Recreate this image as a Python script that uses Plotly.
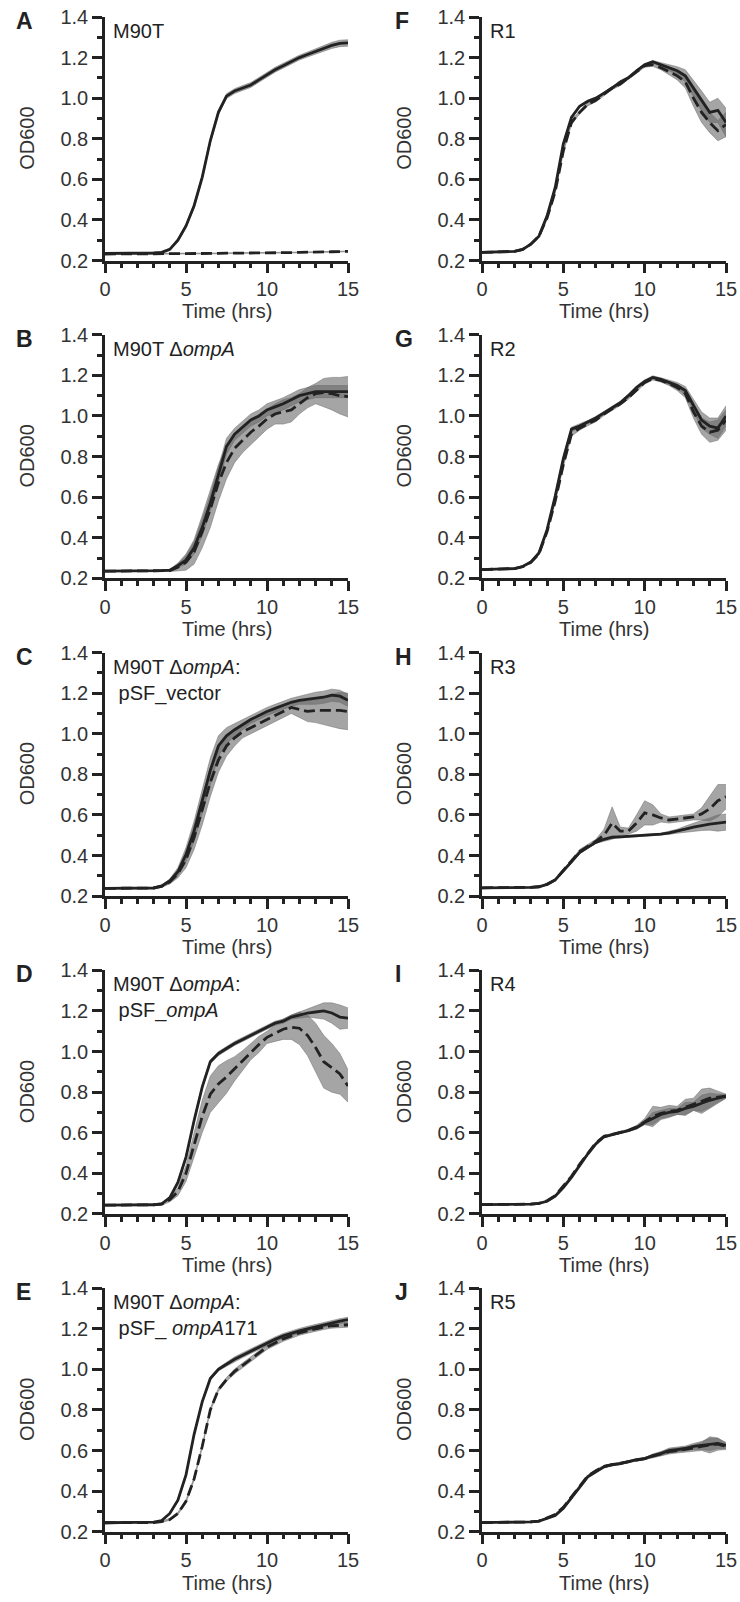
import plotly.graph_objects as go

T = [0, 0.5, 1, 1.5, 2, 2.5, 3, 3.5, 4, 4.5, 5, 5.5, 6, 6.5, 7, 7.5, 8, 8.5, 9, 9.5,
     10, 10.5, 11, 11.5, 12, 12.5, 13, 13.5, 14, 14.5, 15]

X_TICKS = [0, 5, 10, 15]
Y_TICKS = [0.2, 0.4, 0.6, 0.8, 1.0, 1.2, 1.4]

LETTERS = ["A", "B", "C", "D", "E", "F", "G", "H", "I", "J"]
TITLES = [
    "M90T",
    "M90T Δ<i>ompA</i>",
    "M90T Δ<i>ompA</i>:<br>\u00a0pSF_vector",
    "M90T Δ<i>ompA</i>:<br>\u00a0pSF_<i>ompA</i>",
    "M90T Δ<i>ompA</i>:<br>\u00a0pSF_ <i>ompA</i>171",
    "R1", "R2", "R3", "R4", "R5",
]

A_solid = [0.235, 0.235, 0.235, 0.235, 0.236, 0.236, 0.237, 0.24, 0.255, 0.3, 0.37, 0.47, 0.61, 0.79, 0.93, 1.01,
           1.035, 1.05, 1.065, 1.09, 1.115, 1.14, 1.16, 1.18, 1.2, 1.215, 1.23, 1.245, 1.26, 1.27, 1.272]
A_solid_err = [0.003, 0.003, 0.003, 0.003, 0.003, 0.003, 0.003, 0.004, 0.006, 0.008, 0.01, 0.012, 0.012, 0.012, 0.012, 0.012,
               0.012, 0.012, 0.012, 0.012, 0.012, 0.012, 0.012, 0.012, 0.012, 0.012, 0.013, 0.014, 0.015, 0.016, 0.016]
A_dash = [0.232, 0.232, 0.232, 0.232, 0.232, 0.233, 0.233, 0.233, 0.233, 0.234, 0.234, 0.234, 0.235, 0.235, 0.235, 0.236,
          0.236, 0.236, 0.237, 0.237, 0.238, 0.238, 0.239, 0.239, 0.24, 0.24, 0.241, 0.242, 0.243, 0.244, 0.245]
A_dash_err = [0.002, 0.002, 0.002, 0.002, 0.002, 0.002, 0.002, 0.002, 0.002, 0.002, 0.002, 0.002, 0.002, 0.002, 0.002, 0.002,
              0.002, 0.002, 0.002, 0.002, 0.002, 0.002, 0.002, 0.002, 0.002, 0.002, 0.002, 0.002, 0.002, 0.002, 0.002]

B_solid = [0.235, 0.235, 0.235, 0.235, 0.235, 0.236, 0.236, 0.238, 0.24, 0.262, 0.29, 0.35, 0.45, 0.57, 0.71, 0.85,
           0.91, 0.945, 0.98, 1.0, 1.03, 1.045, 1.06, 1.08, 1.1, 1.11, 1.12, 1.12, 1.12, 1.12, 1.12]
B_solid_err = [0, 0, 0, 0, 0, 0, 0, 0, 0.005, 0.01, 0.02, 0.03, 0.04, 0.04, 0.04, 0.04,
               0.03, 0.03, 0.03, 0.03, 0.03, 0.03, 0.03, 0.03, 0.03, 0.03, 0.03, 0.03, 0.03, 0.03, 0.03]
B_dash = [0.235, 0.235, 0.235, 0.235, 0.235, 0.236, 0.236, 0.237, 0.238, 0.255, 0.28, 0.33, 0.43, 0.54, 0.67, 0.77,
          0.84, 0.88, 0.92, 0.95, 0.985, 1.01, 1.02, 1.03, 1.06, 1.09, 1.11, 1.115, 1.11, 1.1, 1.095]
B_dash_err = [0, 0, 0, 0, 0, 0, 0, 0, 0.005, 0.02, 0.04, 0.06, 0.08, 0.09, 0.09, 0.08,
              0.07, 0.06, 0.06, 0.055, 0.05, 0.05, 0.06, 0.06, 0.05, 0.05, 0.05, 0.07, 0.08, 0.09, 0.1]

C_solid = [0.238, 0.238, 0.238, 0.238, 0.238, 0.239, 0.24, 0.25, 0.275, 0.32, 0.405, 0.52, 0.67, 0.82, 0.94, 0.99,
           1.02, 1.045, 1.07, 1.09, 1.11, 1.125, 1.14, 1.155, 1.165, 1.17, 1.175, 1.18, 1.19, 1.185, 1.165]
C_solid_err = [0, 0, 0, 0, 0, 0, 0, 0.005, 0.01, 0.02, 0.035, 0.05, 0.06, 0.06, 0.05, 0.04,
               0.03, 0.025, 0.02, 0.02, 0.02, 0.02, 0.02, 0.02, 0.02, 0.025, 0.03, 0.03, 0.03, 0.03, 0.03]
C_dash = [0.238, 0.238, 0.238, 0.238, 0.238, 0.239, 0.24, 0.248, 0.27, 0.31, 0.38, 0.49, 0.62, 0.76, 0.87, 0.94,
          0.98, 1.01, 1.03, 1.05, 1.07, 1.09, 1.11, 1.13, 1.12, 1.11, 1.115, 1.115, 1.115, 1.115, 1.11]
C_dash_err = [0, 0, 0, 0, 0, 0, 0, 0.005, 0.01, 0.02, 0.04, 0.06, 0.07, 0.07, 0.06, 0.05,
              0.04, 0.03, 0.03, 0.03, 0.03, 0.03, 0.03, 0.03, 0.04, 0.05, 0.06, 0.07, 0.08, 0.09, 0.09]

D_solid = [0.243, 0.243, 0.243, 0.243, 0.243, 0.244, 0.245, 0.25, 0.28, 0.355, 0.48, 0.66, 0.825, 0.95, 0.99, 1.015,
           1.04, 1.06, 1.08, 1.1, 1.12, 1.14, 1.15, 1.17, 1.18, 1.19, 1.195, 1.2, 1.19, 1.17, 1.165]
D_solid_err = [0, 0, 0, 0, 0, 0, 0, 0.003, 0.005, 0.008, 0.01, 0.01, 0.01, 0.01, 0.01, 0.01,
               0.01, 0.01, 0.01, 0.01, 0.01, 0.01, 0.01, 0.01, 0.015, 0.02, 0.03, 0.04, 0.05, 0.06, 0.05]
D_dash = [0.243, 0.243, 0.243, 0.243, 0.243, 0.244, 0.245, 0.248, 0.27, 0.31, 0.4, 0.54, 0.68, 0.79, 0.84, 0.875,
          0.915, 0.955, 1.0, 1.035, 1.07, 1.09, 1.11, 1.12, 1.115, 1.08, 1.02, 0.95, 0.92, 0.89, 0.83]
D_dash_err = [0, 0, 0, 0, 0, 0, 0, 0.005, 0.01, 0.02, 0.04, 0.06, 0.08, 0.09, 0.09, 0.08,
              0.06, 0.05, 0.04, 0.04, 0.03, 0.04, 0.05, 0.06, 0.08, 0.1, 0.12, 0.13, 0.12, 0.1, 0.08]

E_solid = [0.244, 0.244, 0.244, 0.244, 0.244, 0.245, 0.247, 0.255, 0.29, 0.355, 0.48, 0.68, 0.84, 0.955, 1.0, 1.025,
           1.05, 1.07, 1.09, 1.11, 1.13, 1.148, 1.165, 1.178, 1.19, 1.2, 1.21, 1.22, 1.23, 1.238, 1.245]
E_solid_err = [0, 0, 0, 0, 0, 0, 0, 0.003, 0.005, 0.006, 0.008, 0.008, 0.008, 0.008, 0.008, 0.01,
               0.012, 0.012, 0.012, 0.012, 0.012, 0.012, 0.012, 0.012, 0.012, 0.012, 0.012, 0.012, 0.012, 0.012, 0.012]
E_dash = [0.244, 0.244, 0.244, 0.244, 0.244, 0.244, 0.245, 0.25, 0.26, 0.29, 0.35, 0.46, 0.62, 0.8, 0.9, 0.95,
          0.99, 1.02, 1.05, 1.08, 1.11, 1.13, 1.15, 1.165, 1.18, 1.19, 1.2, 1.208, 1.215, 1.218, 1.22]
E_dash_err = [0, 0, 0, 0, 0, 0, 0, 0.003, 0.005, 0.006, 0.008, 0.008, 0.008, 0.008, 0.008, 0.01,
              0.012, 0.012, 0.012, 0.012, 0.012, 0.012, 0.012, 0.012, 0.012, 0.012, 0.012, 0.012, 0.012, 0.012, 0.012]

F_solid = [0.24, 0.241, 0.242, 0.243, 0.245, 0.255, 0.28, 0.32, 0.42, 0.56, 0.775, 0.905, 0.96, 0.985, 1.0, 1.025,
           1.05, 1.08, 1.1, 1.135, 1.165, 1.18, 1.165, 1.15, 1.135, 1.11, 1.05, 0.985, 0.93, 0.94, 0.88]
F_solid_err = [0, 0, 0, 0, 0, 0, 0.003, 0.005, 0.005, 0.005, 0.005, 0.005, 0.005, 0.005, 0.005, 0.005,
               0.005, 0.005, 0.005, 0.005, 0.005, 0.005, 0.01, 0.015, 0.02, 0.03, 0.04, 0.05, 0.05, 0.06, 0.07]
F_dash = [0.24, 0.241, 0.242, 0.243, 0.245, 0.255, 0.28, 0.32, 0.41, 0.54, 0.74, 0.88, 0.93, 0.97, 0.99, 1.02,
          1.05, 1.07, 1.1, 1.13, 1.16, 1.165, 1.15, 1.13, 1.11, 1.08, 1.0, 0.93, 0.88, 0.84, 0.87]
F_dash_err = [0, 0, 0, 0, 0, 0, 0.003, 0.005, 0.008, 0.01, 0.01, 0.01, 0.008, 0.008, 0.008, 0.008,
              0.008, 0.008, 0.008, 0.008, 0.008, 0.008, 0.01, 0.015, 0.02, 0.03, 0.04, 0.05, 0.05, 0.05, 0.06]

G_solid = [0.243, 0.244, 0.245, 0.246, 0.248, 0.258, 0.28, 0.325, 0.44, 0.605, 0.79, 0.935, 0.95, 0.97, 0.99, 1.015,
           1.04, 1.065, 1.1, 1.14, 1.17, 1.19, 1.18, 1.165, 1.15, 1.125, 1.05, 0.98, 0.95, 0.94, 1.0]
G_solid_err = [0, 0, 0, 0, 0, 0, 0.003, 0.005, 0.005, 0.008, 0.01, 0.01, 0.01, 0.008, 0.008, 0.008,
               0.008, 0.008, 0.008, 0.008, 0.008, 0.008, 0.008, 0.01, 0.015, 0.02, 0.03, 0.04, 0.04, 0.05, 0.05]
G_dash = [0.243, 0.244, 0.245, 0.246, 0.248, 0.257, 0.278, 0.32, 0.43, 0.58, 0.76, 0.91, 0.94, 0.96, 0.98, 1.01,
          1.035, 1.06, 1.09, 1.13, 1.165, 1.185, 1.175, 1.16, 1.14, 1.11, 1.02, 0.95, 0.92, 0.93, 0.98]
G_dash_err = [0, 0, 0, 0, 0, 0, 0.003, 0.005, 0.005, 0.008, 0.01, 0.01, 0.01, 0.008, 0.008, 0.008,
              0.008, 0.008, 0.008, 0.008, 0.008, 0.008, 0.008, 0.01, 0.015, 0.02, 0.03, 0.04, 0.05, 0.05, 0.05]

H_solid = [0.241, 0.241, 0.241, 0.241, 0.241, 0.242, 0.243, 0.246, 0.258, 0.28, 0.325, 0.365, 0.415, 0.44, 0.465, 0.48,
           0.49, 0.492, 0.495, 0.497, 0.5, 0.502, 0.505, 0.512, 0.52, 0.53, 0.54, 0.548, 0.555, 0.56, 0.565]
H_solid_err = [0, 0, 0, 0, 0, 0, 0, 0, 0.003, 0.004, 0.005, 0.005, 0.005, 0.005, 0.005, 0.005,
               0.005, 0.005, 0.005, 0.005, 0.005, 0.005, 0.005, 0.008, 0.01, 0.015, 0.02, 0.025, 0.03, 0.04, 0.04]
H_dash = [0.241, 0.241, 0.241, 0.241, 0.241, 0.242, 0.243, 0.246, 0.258, 0.28, 0.325, 0.37, 0.42, 0.445, 0.47, 0.5,
          0.56, 0.52, 0.52, 0.56, 0.61, 0.6, 0.585, 0.575, 0.58, 0.585, 0.59, 0.605, 0.63, 0.67, 0.69]
H_dash_err = [0, 0, 0, 0, 0, 0, 0, 0, 0.003, 0.004, 0.005, 0.005, 0.01, 0.01, 0.01, 0.03,
              0.08, 0.02, 0.015, 0.04, 0.06, 0.05, 0.02, 0.015, 0.015, 0.015, 0.015, 0.03, 0.06, 0.08, 0.06]

I_solid = [0.246, 0.246, 0.246, 0.246, 0.246, 0.247, 0.248, 0.252, 0.262, 0.287, 0.33, 0.38, 0.44, 0.495, 0.545, 0.58,
           0.59, 0.6, 0.61, 0.625, 0.65, 0.67, 0.69, 0.7, 0.705, 0.72, 0.73, 0.745, 0.76, 0.77, 0.78]
I_solid_err = [0, 0, 0, 0, 0, 0, 0, 0, 0.003, 0.004, 0.005, 0.005, 0.005, 0.005, 0.005, 0.005,
               0.005, 0.005, 0.005, 0.008, 0.01, 0.03, 0.02, 0.02, 0.015, 0.03, 0.02, 0.04, 0.035, 0.02, 0.01]
I_dash = [0.246, 0.246, 0.246, 0.246, 0.246, 0.247, 0.248, 0.252, 0.265, 0.29, 0.335, 0.385, 0.445, 0.5, 0.55, 0.582,
          0.592, 0.602, 0.612, 0.628, 0.655, 0.68, 0.695, 0.705, 0.71, 0.725, 0.74, 0.755, 0.77, 0.775, 0.78]
I_dash_err = [0, 0, 0, 0, 0, 0, 0, 0, 0.003, 0.004, 0.005, 0.005, 0.005, 0.005, 0.005, 0.005,
              0.005, 0.005, 0.005, 0.008, 0.015, 0.05, 0.03, 0.03, 0.02, 0.04, 0.03, 0.06, 0.05, 0.03, 0.01]

J_solid = [0.245, 0.245, 0.245, 0.245, 0.245, 0.246, 0.248, 0.252, 0.265, 0.28, 0.315, 0.365, 0.42, 0.47, 0.495, 0.52,
           0.53, 0.535, 0.545, 0.555, 0.56, 0.575, 0.585, 0.6, 0.605, 0.61, 0.62, 0.625, 0.63, 0.635, 0.625]
J_solid_err = [0, 0, 0, 0, 0, 0, 0, 0, 0.003, 0.004, 0.005, 0.005, 0.005, 0.005, 0.005, 0.005,
               0.005, 0.005, 0.005, 0.005, 0.005, 0.008, 0.01, 0.012, 0.012, 0.012, 0.015, 0.02, 0.03, 0.025, 0.015]
J_dash = [0.245, 0.245, 0.245, 0.245, 0.245, 0.246, 0.248, 0.252, 0.268, 0.285, 0.32, 0.37, 0.425, 0.475, 0.5, 0.522,
          0.53, 0.537, 0.545, 0.553, 0.56, 0.572, 0.583, 0.595, 0.6, 0.605, 0.612, 0.62, 0.628, 0.632, 0.62]
J_dash_err = [0, 0, 0, 0, 0, 0, 0, 0, 0.003, 0.004, 0.005, 0.005, 0.005, 0.005, 0.005, 0.005,
              0.005, 0.005, 0.005, 0.005, 0.005, 0.008, 0.01, 0.012, 0.012, 0.012, 0.015, 0.02, 0.04, 0.03, 0.015]

SERIES = [
    (A_solid, A_solid_err, A_dash, A_dash_err),
    (B_solid, B_solid_err, B_dash, B_dash_err),
    (C_solid, C_solid_err, C_dash, C_dash_err),
    (D_solid, D_solid_err, D_dash, D_dash_err),
    (E_solid, E_solid_err, E_dash, E_dash_err),
    (F_solid, F_solid_err, F_dash, F_dash_err),
    (G_solid, G_solid_err, G_dash, G_dash_err),
    (H_solid, H_solid_err, H_dash, H_dash_err),
    (I_solid, I_solid_err, I_dash, I_dash_err),
    (J_solid, J_solid_err, J_dash, J_dash_err),
]

# ---- layout geometry (page pixels); body margin is removed by a post script ----
W, H = 740, 1602
COLS = [(105, 348), (482, 726)]
ROW_TOP0, ROW_STEP, PLOT_H = 17, 317.8, 243.5
LETTER_X = [14, 393]
YTITLE_X = [27, 404]


def px(v):
    return v / W


def py(v):
    return 1 - v / H


FONT = "Arial, Liberation Sans, Helvetica, sans-serif"
INK = "#222222"
TXT = "#333333"
BAND = "rgba(105,105,105,0.6)"

fig = go.Figure()
layout = dict(
    template="none",
    width=W, height=H, margin=dict(l=0, r=0, t=0, b=0, pad=0, autoexpand=False),
    paper_bgcolor="white", plot_bgcolor="white", showlegend=False,
    font=dict(family=FONT, size=20, color=TXT),
)
annotations = []

for k in range(10):
    col = 0 if k < 5 else 1
    row = k % 5
    x0, x1 = COLS[col]
    top = ROW_TOP0 + ROW_STEP * row
    bot = top + PLOT_H
    n = k + 1
    xa = "x" if n == 1 else f"x{n}"
    ya = "y" if n == 1 else f"y{n}"
    xkey = "xaxis" if n == 1 else f"xaxis{n}"
    ykey = "yaxis" if n == 1 else f"yaxis{n}"

    layout[xkey] = dict(
        domain=[px(x0), px(x1)], anchor=ya, range=[0, 15], automargin=False,
        ticklabeloverflow="allow", ticklabelstandoff=-1,
        showline=True, linewidth=2.5, linecolor=INK, showgrid=False, zeroline=False,
        ticks="outside", ticklen=10, tickwidth=2.5, tickcolor=INK,
        tickvals=X_TICKS, ticktext=[str(v) for v in X_TICKS],
        tickfont=dict(family=FONT, size=20, color=TXT),
        minor=dict(dtick=1, tick0=0, ticks="outside", ticklen=5, tickwidth=2.5, tickcolor=INK, showgrid=False),
        fixedrange=True,
    )
    layout[ykey] = dict(
        domain=[py(bot), py(top)], anchor=xa, range=[0.2, 1.4], automargin=False,
        ticklabeloverflow="allow",
        showline=True, linewidth=2.5, linecolor=INK, showgrid=False, zeroline=False,
        ticks="outside", ticklen=10, tickwidth=2.5, tickcolor=INK,
        tickvals=Y_TICKS, ticktext=[f"{v:.1f}" for v in Y_TICKS],
        tickfont=dict(family=FONT, size=20, color=TXT),
        minor=dict(dtick=0.1, tick0=0.2, ticks="outside", ticklen=5, tickwidth=2.5, tickcolor=INK, showgrid=False),
        fixedrange=True,
    )

    solid, solid_err, dash, dash_err = SERIES[k]
    # error bands (mean ± error)
    for yv, ev in ((dash, dash_err), (solid, solid_err)):
        up = [a + b for a, b in zip(yv, ev)]
        lo = [a - b for a, b in zip(yv, ev)]
        fig.add_trace(go.Scatter(x=T, y=up, xaxis=xa, yaxis=ya, mode="lines",
                                 line=dict(width=0.8, color=BAND), hoverinfo="skip"))
        fig.add_trace(go.Scatter(x=T, y=lo, xaxis=xa, yaxis=ya, mode="lines",
                                 line=dict(width=0.8, color=BAND), fill="tonexty",
                                 fillcolor=BAND, hoverinfo="skip"))
    fig.add_trace(go.Scatter(x=T, y=dash, xaxis=xa, yaxis=ya, mode="lines",
                             line=dict(color=INK, width=2.8, dash="11px,5px")))
    fig.add_trace(go.Scatter(x=T, y=solid, xaxis=xa, yaxis=ya, mode="lines",
                             line=dict(color=INK, width=2.8)))

    # panel letter
    annotations.append(dict(text=f"<b>{LETTERS[k]}</b>", x=px(LETTER_X[col]), y=py(top + 4),
                            xref="paper", yref="paper", xanchor="left", yanchor="middle",
                            showarrow=False, font=dict(family=FONT, size=23, color=INK)))
    # in-plot title
    annotations.append(dict(text=TITLES[k], x=px(x0 + 6), y=py(top + 1),
                            xref="paper", yref="paper", xanchor="left", yanchor="top", align="left",
                            showarrow=False, font=dict(family=FONT, size=20, color=INK)))
    # y axis title
    annotations.append(dict(text="OD600", x=px(YTITLE_X[col]), y=py((top + bot) / 2),
                            xref="paper", yref="paper", xanchor="center", yanchor="middle",
                            textangle=-90, showarrow=False, font=dict(family=FONT, size=20, color=TXT)))
    # x axis title
    annotations.append(dict(text="Time (hrs)", x=px((x0 + x1) / 2), y=py(bot + 51),
                            xref="paper", yref="paper", xanchor="center", yanchor="middle",
                            showarrow=False, font=dict(family=FONT, size=20, color=TXT)))

layout["annotations"] = annotations
fig.update_layout(**layout)
fig.write_html(
    "out.html",
    config={"displayModeBar": False},
    post_script="document.body.style.margin='0';document.body.style.overflow='hidden';",
)
